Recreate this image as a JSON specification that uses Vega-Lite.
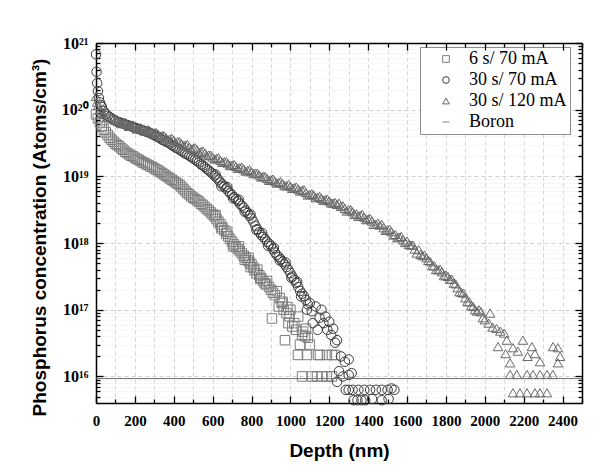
{
"$schema": "https://vega.github.io/schema/vega-lite/v6.json",
"width": 486, "height": 360,
"autosize": "none",
"padding": {"left": 96, "top": 43, "right": 24, "bottom": 72},
"background": "white",
"config": {"view": {"stroke": null}},
"datasets": {
"pts": [
{"s":"6 s/ 70 mA","d":0,"c":8.51e19},{"s":"6 s/ 70 mA","d":10,"c":7.41e19},{"s":"6 s/ 70 mA","d":20,"c":6.46e19},{"s":"6 s/ 70 mA","d":30,"c":5.62e19},{"s":"6 s/ 70 mA","d":40,"c":5.01e19},{"s":"6 s/ 70 mA","d":50,"c":4.57e19},{"s":"6 s/ 70 mA","d":60,"c":4.17e19},{"s":"6 s/ 70 mA","d":70,"c":3.80e19},{"s":"6 s/ 70 mA","d":80,"c":3.55e19},{"s":"6 s/ 70 mA","d":90,"c":3.31e19},{"s":"6 s/ 70 mA","d":100,"c":3.09e19},{"s":"6 s/ 70 mA","d":110,"c":2.95e19},{"s":"6 s/ 70 mA","d":120,"c":2.82e19},{"s":"6 s/ 70 mA","d":130,"c":2.63e19},{"s":"6 s/ 70 mA","d":140,"c":2.51e19},{"s":"6 s/ 70 mA","d":150,"c":2.34e19},{"s":"6 s/ 70 mA","d":160,"c":2.24e19},{"s":"6 s/ 70 mA","d":170,"c":2.14e19},{"s":"6 s/ 70 mA","d":180,"c":2.04e19},{"s":"6 s/ 70 mA","d":190,"c":2.00e19},{"s":"6 s/ 70 mA","d":200,"c":1.91e19},{"s":"6 s/ 70 mA","d":210,"c":1.82e19},{"s":"6 s/ 70 mA","d":220,"c":1.78e19},{"s":"6 s/ 70 mA","d":230,"c":1.70e19},{"s":"6 s/ 70 mA","d":240,"c":1.62e19},{"s":"6 s/ 70 mA","d":250,"c":1.58e19},{"s":"6 s/ 70 mA","d":260,"c":1.51e19},{"s":"6 s/ 70 mA","d":270,"c":1.48e19},{"s":"6 s/ 70 mA","d":280,"c":1.41e19},{"s":"6 s/ 70 mA","d":290,"c":1.38e19},{"s":"6 s/ 70 mA","d":300,"c":1.32e19},{"s":"6 s/ 70 mA","d":310,"c":1.26e19},{"s":"6 s/ 70 mA","d":320,"c":1.23e19},{"s":"6 s/ 70 mA","d":330,"c":1.17e19},{"s":"6 s/ 70 mA","d":340,"c":1.12e19},{"s":"6 s/ 70 mA","d":350,"c":1.07e19},{"s":"6 s/ 70 mA","d":360,"c":1.02e19},{"s":"6 s/ 70 mA","d":370,"c":9.77e18},{"s":"6 s/ 70 mA","d":380,"c":9.33e18},{"s":"6 s/ 70 mA","d":390,"c":8.91e18},{"s":"6 s/ 70 mA","d":400,"c":8.51e18},{"s":"6 s/ 70 mA","d":410,"c":8.13e18},{"s":"6 s/ 70 mA","d":420,"c":7.76e18},{"s":"6 s/ 70 mA","d":430,"c":7.41e18},{"s":"6 s/ 70 mA","d":440,"c":6.92e18},{"s":"6 s/ 70 mA","d":450,"c":6.46e18},{"s":"6 s/ 70 mA","d":460,"c":6.03e18},{"s":"6 s/ 70 mA","d":470,"c":5.62e18},{"s":"6 s/ 70 mA","d":480,"c":5.37e18},{"s":"6 s/ 70 mA","d":490,"c":5.01e18},{"s":"6 s/ 70 mA","d":500,"c":4.79e18},{"s":"6 s/ 70 mA","d":510,"c":4.57e18},{"s":"6 s/ 70 mA","d":520,"c":4.37e18},{"s":"6 s/ 70 mA","d":530,"c":4.17e18},{"s":"6 s/ 70 mA","d":540,"c":3.89e18},{"s":"6 s/ 70 mA","d":550,"c":3.72e18},{"s":"6 s/ 70 mA","d":560,"c":3.47e18},{"s":"6 s/ 70 mA","d":570,"c":3.24e18},{"s":"6 s/ 70 mA","d":580,"c":3.09e18},{"s":"6 s/ 70 mA","d":590,"c":2.88e18},{"s":"6 s/ 70 mA","d":600,"c":2.69e18},{"s":"6 s/ 70 mA","d":610,"c":2.51e18},{"s":"6 s/ 70 mA","d":620,"c":2.29e18},{"s":"6 s/ 70 mA","d":630,"c":2.09e18},{"s":"6 s/ 70 mA","d":640,"c":1.91e18},{"s":"6 s/ 70 mA","d":650,"c":1.74e18},{"s":"6 s/ 70 mA","d":660,"c":1.55e18},{"s":"6 s/ 70 mA","d":670,"c":1.38e18},{"s":"6 s/ 70 mA","d":680,"c":1.26e18},{"s":"6 s/ 70 mA","d":690,"c":1.15e18},{"s":"6 s/ 70 mA","d":700,"c":1.05e18},{"s":"6 s/ 70 mA","d":710,"c":9.55e17},{"s":"6 s/ 70 mA","d":720,"c":8.71e17},{"s":"6 s/ 70 mA","d":730,"c":8.13e17},{"s":"6 s/ 70 mA","d":740,"c":7.59e17},{"s":"6 s/ 70 mA","d":750,"c":7.08e17},{"s":"6 s/ 70 mA","d":760,"c":6.46e17},{"s":"6 s/ 70 mA","d":770,"c":6.03e17},{"s":"6 s/ 70 mA","d":780,"c":5.50e17},{"s":"6 s/ 70 mA","d":790,"c":5.13e17},{"s":"6 s/ 70 mA","d":800,"c":4.79e17},
{"s":"6 s/ 70 mA","d":615,"c":2.63e18},{"s":"6 s/ 70 mA","d":645,"c":1.66e18},{"s":"6 s/ 70 mA","d":675,"c":1.48e18},{"s":"6 s/ 70 mA","d":705,"c":8.91e17},{"s":"6 s/ 70 mA","d":735,"c":8.91e17},{"s":"6 s/ 70 mA","d":765,"c":5.62e17},{"s":"6 s/ 70 mA","d":785,"c":6.03e17},{"s":"6 s/ 70 mA","d":795,"c":4.37e17},
{"s":"6 s/ 70 mA","d":810,"c":4.3e17},{"s":"6 s/ 70 mA","d":815,"c":3.9e17},{"s":"6 s/ 70 mA","d":825,"c":3.5e17},{"s":"6 s/ 70 mA","d":830,"c":4.0e17},{"s":"6 s/ 70 mA","d":840,"c":3.3e17},{"s":"6 s/ 70 mA","d":845,"c":2.9e17},{"s":"6 s/ 70 mA","d":850,"c":3.0e17},{"s":"6 s/ 70 mA","d":860,"c":2.7e17},{"s":"6 s/ 70 mA","d":868,"c":2.5e17},{"s":"6 s/ 70 mA","d":875,"c":2.4e17},{"s":"6 s/ 70 mA","d":880,"c":2.7e17},{"s":"6 s/ 70 mA","d":890,"c":2.2e17},{"s":"6 s/ 70 mA","d":900,"c":2.0e17},{"s":"6 s/ 70 mA","d":905,"c":7.4e16},{"s":"6 s/ 70 mA","d":910,"c":1.8e17},{"s":"6 s/ 70 mA","d":920,"c":1.66e17},{"s":"6 s/ 70 mA","d":930,"c":1.9e17},{"s":"6 s/ 70 mA","d":940,"c":1.12e17},{"s":"6 s/ 70 mA","d":945,"c":1.5e17},{"s":"6 s/ 70 mA","d":955,"c":1.26e17},{"s":"6 s/ 70 mA","d":960,"c":1.32e17},{"s":"6 s/ 70 mA","d":965,"c":1.0e17},{"s":"6 s/ 70 mA","d":972,"c":3.5e16},{"s":"6 s/ 70 mA","d":980,"c":8.9e16},{"s":"6 s/ 70 mA","d":985,"c":1.1e17},{"s":"6 s/ 70 mA","d":990,"c":6.3e16},{"s":"6 s/ 70 mA","d":995,"c":8.0e16},{"s":"6 s/ 70 mA","d":1000,"c":1.0e17},{"s":"6 s/ 70 mA","d":1010,"c":5.6e16},{"s":"6 s/ 70 mA","d":1020,"c":6.3e16},{"s":"6 s/ 70 mA","d":1030,"c":5.0e16},{"s":"6 s/ 70 mA","d":1040,"c":7.9e16},{"s":"6 s/ 70 mA","d":1049,"c":3.0e16},{"s":"6 s/ 70 mA","d":1060,"c":4.2e16},{"s":"6 s/ 70 mA","d":1065,"c":4.7e16},{"s":"6 s/ 70 mA","d":1075,"c":4.0e16},{"s":"6 s/ 70 mA","d":1080,"c":5.2e16},{"s":"6 s/ 70 mA","d":1090,"c":3.8e16},{"s":"6 s/ 70 mA","d":1100,"c":3.0e16},
{"s":"6 s/ 70 mA","d":1039,"c":2.1e16},{"s":"6 s/ 70 mA","d":1085,"c":2.1e16},{"s":"6 s/ 70 mA","d":1142,"c":2.1e16},{"s":"6 s/ 70 mA","d":1152,"c":2.1e16},{"s":"6 s/ 70 mA","d":1188,"c":2.1e16},{"s":"6 s/ 70 mA","d":1214,"c":2.1e16},{"s":"6 s/ 70 mA","d":1229,"c":2.1e16},
{"s":"6 s/ 70 mA","d":1060,"c":1.0e16},{"s":"6 s/ 70 mA","d":1111,"c":1.0e16},{"s":"6 s/ 70 mA","d":1137,"c":1.0e16},{"s":"6 s/ 70 mA","d":1162,"c":1.0e16},{"s":"6 s/ 70 mA","d":1188,"c":1.0e16},{"s":"6 s/ 70 mA","d":1214,"c":1.0e16},

{"s":"30 s/ 70 mA","d":0,"c":6.76e20},{"s":"30 s/ 70 mA","d":3,"c":3.7e20},{"s":"30 s/ 70 mA","d":6,"c":2.5e20},{"s":"30 s/ 70 mA","d":10,"c":1.9e20},{"s":"30 s/ 70 mA","d":15,"c":1.5e20},{"s":"30 s/ 70 mA","d":20,"c":1.29e20},{"s":"30 s/ 70 mA","d":25,"c":1.17e20},{"s":"30 s/ 70 mA","d":30,"c":1.10e20},{"s":"30 s/ 70 mA","d":40,"c":9.55e19},{"s":"30 s/ 70 mA","d":50,"c":8.71e19},{"s":"30 s/ 70 mA","d":60,"c":8.13e19},{"s":"30 s/ 70 mA","d":70,"c":7.76e19},{"s":"30 s/ 70 mA","d":80,"c":7.41e19},{"s":"30 s/ 70 mA","d":90,"c":7.08e19},{"s":"30 s/ 70 mA","d":100,"c":6.76e19},{"s":"30 s/ 70 mA","d":110,"c":6.61e19},{"s":"30 s/ 70 mA","d":120,"c":6.46e19},{"s":"30 s/ 70 mA","d":130,"c":6.31e19},{"s":"30 s/ 70 mA","d":140,"c":6.17e19},{"s":"30 s/ 70 mA","d":150,"c":6.03e19},{"s":"30 s/ 70 mA","d":160,"c":5.89e19},{"s":"30 s/ 70 mA","d":170,"c":5.75e19},{"s":"30 s/ 70 mA","d":180,"c":5.62e19},{"s":"30 s/ 70 mA","d":190,"c":5.50e19},{"s":"30 s/ 70 mA","d":200,"c":5.37e19},{"s":"30 s/ 70 mA","d":210,"c":5.25e19},{"s":"30 s/ 70 mA","d":220,"c":5.13e19},{"s":"30 s/ 70 mA","d":230,"c":5.01e19},{"s":"30 s/ 70 mA","d":240,"c":4.90e19},{"s":"30 s/ 70 mA","d":250,"c":4.79e19},{"s":"30 s/ 70 mA","d":260,"c":4.68e19},{"s":"30 s/ 70 mA","d":270,"c":4.57e19},{"s":"30 s/ 70 mA","d":280,"c":4.47e19},{"s":"30 s/ 70 mA","d":290,"c":4.27e19},{"s":"30 s/ 70 mA","d":300,"c":4.17e19},{"s":"30 s/ 70 mA","d":310,"c":3.98e19},{"s":"30 s/ 70 mA","d":320,"c":3.89e19},{"s":"30 s/ 70 mA","d":330,"c":3.72e19},{"s":"30 s/ 70 mA","d":340,"c":3.55e19},{"s":"30 s/ 70 mA","d":350,"c":3.47e19},{"s":"30 s/ 70 mA","d":360,"c":3.31e19},{"s":"30 s/ 70 mA","d":370,"c":3.24e19},{"s":"30 s/ 70 mA","d":380,"c":3.09e19},{"s":"30 s/ 70 mA","d":390,"c":2.95e19},{"s":"30 s/ 70 mA","d":400,"c":2.82e19},{"s":"30 s/ 70 mA","d":410,"c":2.69e19},{"s":"30 s/ 70 mA","d":420,"c":2.63e19},{"s":"30 s/ 70 mA","d":430,"c":2.51e19},{"s":"30 s/ 70 mA","d":440,"c":2.40e19},{"s":"30 s/ 70 mA","d":450,"c":2.29e19},{"s":"30 s/ 70 mA","d":460,"c":2.19e19},{"s":"30 s/ 70 mA","d":470,"c":2.14e19},{"s":"30 s/ 70 mA","d":480,"c":2.04e19},{"s":"30 s/ 70 mA","d":490,"c":1.95e19},{"s":"30 s/ 70 mA","d":500,"c":1.86e19},{"s":"30 s/ 70 mA","d":510,"c":1.78e19},{"s":"30 s/ 70 mA","d":520,"c":1.70e19},{"s":"30 s/ 70 mA","d":530,"c":1.62e19},{"s":"30 s/ 70 mA","d":540,"c":1.51e19},{"s":"30 s/ 70 mA","d":550,"c":1.45e19},{"s":"30 s/ 70 mA","d":560,"c":1.38e19},{"s":"30 s/ 70 mA","d":570,"c":1.29e19},{"s":"30 s/ 70 mA","d":580,"c":1.23e19},{"s":"30 s/ 70 mA","d":590,"c":1.15e19},{"s":"30 s/ 70 mA","d":600,"c":1.10e19},{"s":"30 s/ 70 mA","d":610,"c":1.02e19},{"s":"30 s/ 70 mA","d":620,"c":9.55e18},{"s":"30 s/ 70 mA","d":630,"c":8.91e18},{"s":"30 s/ 70 mA","d":640,"c":8.13e18},{"s":"30 s/ 70 mA","d":650,"c":7.59e18},{"s":"30 s/ 70 mA","d":660,"c":7.08e18},{"s":"30 s/ 70 mA","d":670,"c":6.61e18},{"s":"30 s/ 70 mA","d":680,"c":6.03e18},{"s":"30 s/ 70 mA","d":690,"c":5.62e18},{"s":"30 s/ 70 mA","d":700,"c":5.25e18},{"s":"30 s/ 70 mA","d":710,"c":4.90e18},{"s":"30 s/ 70 mA","d":720,"c":4.57e18},{"s":"30 s/ 70 mA","d":730,"c":4.27e18},{"s":"30 s/ 70 mA","d":740,"c":3.89e18},{"s":"30 s/ 70 mA","d":750,"c":3.63e18},{"s":"30 s/ 70 mA","d":760,"c":3.39e18},{"s":"30 s/ 70 mA","d":770,"c":3.09e18},{"s":"30 s/ 70 mA","d":780,"c":2.82e18},{"s":"30 s/ 70 mA","d":790,"c":2.57e18},{"s":"30 s/ 70 mA","d":800,"c":2.34e18},{"s":"30 s/ 70 mA","d":810,"c":2.09e18},{"s":"30 s/ 70 mA","d":820,"c":1.82e18},{"s":"30 s/ 70 mA","d":830,"c":1.62e18},{"s":"30 s/ 70 mA","d":840,"c":1.45e18},{"s":"30 s/ 70 mA","d":850,"c":1.32e18},{"s":"30 s/ 70 mA","d":860,"c":1.23e18},{"s":"30 s/ 70 mA","d":870,"c":1.15e18},{"s":"30 s/ 70 mA","d":880,"c":1.05e18},{"s":"30 s/ 70 mA","d":890,"c":9.77e17},{"s":"30 s/ 70 mA","d":900,"c":9.12e17},{"s":"30 s/ 70 mA","d":910,"c":8.13e17},{"s":"30 s/ 70 mA","d":920,"c":7.24e17},{"s":"30 s/ 70 mA","d":930,"c":6.61e17},{"s":"30 s/ 70 mA","d":940,"c":6.17e17},{"s":"30 s/ 70 mA","d":950,"c":5.75e17},{"s":"30 s/ 70 mA","d":960,"c":5.25e17},{"s":"30 s/ 70 mA","d":970,"c":4.79e17},{"s":"30 s/ 70 mA","d":980,"c":4.37e17},{"s":"30 s/ 70 mA","d":990,"c":3.98e17},{"s":"30 s/ 70 mA","d":1000,"c":3.55e17},{"s":"30 s/ 70 mA","d":1010,"c":3.16e17},{"s":"30 s/ 70 mA","d":1020,"c":2.82e17},{"s":"30 s/ 70 mA","d":1030,"c":2.51e17},{"s":"30 s/ 70 mA","d":1040,"c":2.19e17},{"s":"30 s/ 70 mA","d":1050,"c":1.91e17},{"s":"30 s/ 70 mA","d":1060,"c":1.74e17},
{"s":"30 s/ 70 mA","d":615,"c":1.07e19},{"s":"30 s/ 70 mA","d":645,"c":7.08e18},{"s":"30 s/ 70 mA","d":675,"c":6.92e18},{"s":"30 s/ 70 mA","d":705,"c":4.68e18},{"s":"30 s/ 70 mA","d":735,"c":4.47e18},{"s":"30 s/ 70 mA","d":765,"c":2.95e18},{"s":"30 s/ 70 mA","d":795,"c":2.69e18},{"s":"30 s/ 70 mA","d":825,"c":1.58e18},{"s":"30 s/ 70 mA","d":855,"c":1.41e18},{"s":"30 s/ 70 mA","d":885,"c":9.12e17},{"s":"30 s/ 70 mA","d":915,"c":8.51e17},{"s":"30 s/ 70 mA","d":945,"c":5.50e17},{"s":"30 s/ 70 mA","d":975,"c":5.13e17},{"s":"30 s/ 70 mA","d":1005,"c":3.02e17},{"s":"30 s/ 70 mA","d":1035,"c":2.63e17},{"s":"30 s/ 70 mA","d":1055,"c":1.58e17},{"s":"30 s/ 70 mA","d":1080,"c":1.41e17},{"s":"30 s/ 70 mA","d":1085,"c":1.0e17},
{"s":"30 s/ 70 mA","d":1070,"c":1.6e17},{"s":"30 s/ 70 mA","d":1090,"c":1.2e17},{"s":"30 s/ 70 mA","d":1100,"c":1.26e17},{"s":"30 s/ 70 mA","d":1110,"c":9.5e16},{"s":"30 s/ 70 mA","d":1115,"c":6.3e16},{"s":"30 s/ 70 mA","d":1130,"c":1.12e17},{"s":"30 s/ 70 mA","d":1140,"c":5.0e16},{"s":"30 s/ 70 mA","d":1150,"c":7.6e16},{"s":"30 s/ 70 mA","d":1160,"c":1.0e17},{"s":"30 s/ 70 mA","d":1170,"c":6.3e16},{"s":"30 s/ 70 mA","d":1180,"c":7.9e16},{"s":"30 s/ 70 mA","d":1190,"c":5.0e16},{"s":"30 s/ 70 mA","d":1200,"c":6.6e16},{"s":"30 s/ 70 mA","d":1210,"c":4.2e16},{"s":"30 s/ 70 mA","d":1220,"c":5.2e16},{"s":"30 s/ 70 mA","d":1230,"c":3.2e16},{"s":"30 s/ 70 mA","d":1240,"c":3.5e16},{"s":"30 s/ 70 mA","d":1260,"c":2.0e16},{"s":"30 s/ 70 mA","d":1280,"c":1.66e16},{"s":"30 s/ 70 mA","d":1300,"c":1.8e16},{"s":"30 s/ 70 mA","d":1250,"c":1.2e16},{"s":"30 s/ 70 mA","d":1270,"c":1.0e16},{"s":"30 s/ 70 mA","d":1300,"c":1.05e16},{"s":"30 s/ 70 mA","d":1315,"c":1.12e16},{"s":"30 s/ 70 mA","d":1240,"c":8.3e15},
{"s":"30 s/ 70 mA","d":1285,"c":6.3e15},{"s":"30 s/ 70 mA","d":1300,"c":6.3e15},{"s":"30 s/ 70 mA","d":1320,"c":6.3e15},{"s":"30 s/ 70 mA","d":1350,"c":6.3e15},{"s":"30 s/ 70 mA","d":1380,"c":6.3e15},{"s":"30 s/ 70 mA","d":1410,"c":6.3e15},{"s":"30 s/ 70 mA","d":1440,"c":6.3e15},{"s":"30 s/ 70 mA","d":1470,"c":6.3e15},{"s":"30 s/ 70 mA","d":1500,"c":6.3e15},{"s":"30 s/ 70 mA","d":1520,"c":6.6e15},{"s":"30 s/ 70 mA","d":1535,"c":6.3e15},
{"s":"30 s/ 70 mA","d":1325,"c":4.4e15},{"s":"30 s/ 70 mA","d":1345,"c":4.4e15},{"s":"30 s/ 70 mA","d":1365,"c":4.4e15},{"s":"30 s/ 70 mA","d":1385,"c":4.4e15},{"s":"30 s/ 70 mA","d":1420,"c":4.6e15},{"s":"30 s/ 70 mA","d":1470,"c":4.4e15},{"s":"30 s/ 70 mA","d":1505,"c":4.6e15},

{"s":"30 s/ 120 mA","d":0,"c":1.58e20},{"s":"30 s/ 120 mA","d":5,"c":1.3e20},{"s":"30 s/ 120 mA","d":10,"c":1.15e20},{"s":"30 s/ 120 mA","d":20,"c":9.77e19},{"s":"30 s/ 120 mA","d":30,"c":9.1e19},{"s":"30 s/ 120 mA","d":40,"c":8.51e19},{"s":"30 s/ 120 mA","d":60,"c":7.76e19},{"s":"30 s/ 120 mA","d":80,"c":7.24e19},{"s":"30 s/ 120 mA","d":100,"c":6.92e19},{"s":"30 s/ 120 mA","d":120,"c":6.61e19},{"s":"30 s/ 120 mA","d":140,"c":6.31e19},{"s":"30 s/ 120 mA","d":160,"c":6.03e19},{"s":"30 s/ 120 mA","d":180,"c":5.75e19},{"s":"30 s/ 120 mA","d":200,"c":5.50e19},{"s":"30 s/ 120 mA","d":220,"c":5.25e19},{"s":"30 s/ 120 mA","d":240,"c":5.13e19},{"s":"30 s/ 120 mA","d":260,"c":4.90e19},{"s":"30 s/ 120 mA","d":280,"c":4.68e19},{"s":"30 s/ 120 mA","d":300,"c":4.47e19},{"s":"30 s/ 120 mA","d":320,"c":4.27e19},{"s":"30 s/ 120 mA","d":340,"c":4.07e19},{"s":"30 s/ 120 mA","d":360,"c":3.80e19},{"s":"30 s/ 120 mA","d":380,"c":3.63e19},{"s":"30 s/ 120 mA","d":400,"c":3.47e19},{"s":"30 s/ 120 mA","d":420,"c":3.31e19},{"s":"30 s/ 120 mA","d":440,"c":3.09e19},{"s":"30 s/ 120 mA","d":460,"c":2.95e19},{"s":"30 s/ 120 mA","d":480,"c":2.75e19},{"s":"30 s/ 120 mA","d":500,"c":2.63e19},{"s":"30 s/ 120 mA","d":520,"c":2.51e19},{"s":"30 s/ 120 mA","d":540,"c":2.34e19},{"s":"30 s/ 120 mA","d":560,"c":2.24e19},{"s":"30 s/ 120 mA","d":580,"c":2.09e19},{"s":"30 s/ 120 mA","d":600,"c":1.95e19},{"s":"30 s/ 120 mA","d":620,"c":1.86e19},{"s":"30 s/ 120 mA","d":640,"c":1.74e19},{"s":"30 s/ 120 mA","d":660,"c":1.66e19},{"s":"30 s/ 120 mA","d":680,"c":1.55e19},{"s":"30 s/ 120 mA","d":700,"c":1.48e19},{"s":"30 s/ 120 mA","d":720,"c":1.41e19},{"s":"30 s/ 120 mA","d":740,"c":1.35e19},{"s":"30 s/ 120 mA","d":760,"c":1.29e19},{"s":"30 s/ 120 mA","d":780,"c":1.23e19},{"s":"30 s/ 120 mA","d":800,"c":1.17e19},{"s":"30 s/ 120 mA","d":820,"c":1.12e19},{"s":"30 s/ 120 mA","d":840,"c":1.05e19},{"s":"30 s/ 120 mA","d":860,"c":1.00e19},{"s":"30 s/ 120 mA","d":880,"c":9.33e18},{"s":"30 s/ 120 mA","d":900,"c":8.91e18},{"s":"30 s/ 120 mA","d":920,"c":8.51e18},{"s":"30 s/ 120 mA","d":940,"c":8.13e18},{"s":"30 s/ 120 mA","d":960,"c":7.76e18},{"s":"30 s/ 120 mA","d":980,"c":7.24e18},{"s":"30 s/ 120 mA","d":1000,"c":7.08e18},{"s":"30 s/ 120 mA","d":1020,"c":6.76e18},{"s":"30 s/ 120 mA","d":1040,"c":6.46e18},{"s":"30 s/ 120 mA","d":1060,"c":6.17e18},{"s":"30 s/ 120 mA","d":1080,"c":5.75e18},{"s":"30 s/ 120 mA","d":1100,"c":5.37e18},{"s":"30 s/ 120 mA","d":1120,"c":5.25e18},{"s":"30 s/ 120 mA","d":1140,"c":4.90e18},{"s":"30 s/ 120 mA","d":1160,"c":4.68e18},{"s":"30 s/ 120 mA","d":1180,"c":4.47e18},{"s":"30 s/ 120 mA","d":1200,"c":4.27e18},{"s":"30 s/ 120 mA","d":1220,"c":3.98e18},{"s":"30 s/ 120 mA","d":1240,"c":3.80e18},{"s":"30 s/ 120 mA","d":1250,"c":3.98e18},{"s":"30 s/ 120 mA","d":1260,"c":3.55e18},{"s":"30 s/ 120 mA","d":1280,"c":3.31e18},{"s":"30 s/ 120 mA","d":1300,"c":3.16e18},{"s":"30 s/ 120 mA","d":1320,"c":2.95e18},{"s":"30 s/ 120 mA","d":1340,"c":2.75e18},{"s":"30 s/ 120 mA","d":1350,"c":2.51e18},{"s":"30 s/ 120 mA","d":1360,"c":2.63e18},{"s":"30 s/ 120 mA","d":1380,"c":2.45e18},{"s":"30 s/ 120 mA","d":1400,"c":2.29e18},{"s":"30 s/ 120 mA","d":1420,"c":2.14e18},{"s":"30 s/ 120 mA","d":1440,"c":1.91e18},{"s":"30 s/ 120 mA","d":1450,"c":2.0e18},{"s":"30 s/ 120 mA","d":1460,"c":1.86e18},{"s":"30 s/ 120 mA","d":1480,"c":1.70e18},{"s":"30 s/ 120 mA","d":1500,"c":1.58e18},{"s":"30 s/ 120 mA","d":1520,"c":1.48e18},{"s":"30 s/ 120 mA","d":1540,"c":1.35e18},{"s":"30 s/ 120 mA","d":1550,"c":1.2e18},{"s":"30 s/ 120 mA","d":1560,"c":1.23e18},{"s":"30 s/ 120 mA","d":1580,"c":1.12e18},{"s":"30 s/ 120 mA","d":1600,"c":1.07e18},{"s":"30 s/ 120 mA","d":1610,"c":9.5e17},{"s":"30 s/ 120 mA","d":1620,"c":9.33e17},{"s":"30 s/ 120 mA","d":1640,"c":8.13e17},{"s":"30 s/ 120 mA","d":1650,"c":7.1e17},{"s":"30 s/ 120 mA","d":1660,"c":7.94e17},{"s":"30 s/ 120 mA","d":1680,"c":6.46e17},{"s":"30 s/ 120 mA","d":1700,"c":6.03e17},{"s":"30 s/ 120 mA","d":1710,"c":5.5e17},{"s":"30 s/ 120 mA","d":1720,"c":5.25e17},{"s":"30 s/ 120 mA","d":1740,"c":4.57e17},{"s":"30 s/ 120 mA","d":1750,"c":4.0e17},{"s":"30 s/ 120 mA","d":1760,"c":3.98e17},{"s":"30 s/ 120 mA","d":1780,"c":3.72e17},{"s":"30 s/ 120 mA","d":1800,"c":3.31e17},{"s":"30 s/ 120 mA","d":1810,"c":3.16e17},{"s":"30 s/ 120 mA","d":1820,"c":2.88e17},{"s":"30 s/ 120 mA","d":1840,"c":2.51e17},{"s":"30 s/ 120 mA","d":1850,"c":2.45e17},{"s":"30 s/ 120 mA","d":1860,"c":2.14e17},{"s":"30 s/ 120 mA","d":1880,"c":1.82e17},{"s":"30 s/ 120 mA","d":1900,"c":1.51e17},{"s":"30 s/ 120 mA","d":1910,"c":1.32e17},{"s":"30 s/ 120 mA","d":1920,"c":1.32e17},{"s":"30 s/ 120 mA","d":1940,"c":1.12e17},{"s":"30 s/ 120 mA","d":1950,"c":1.0e17},{"s":"30 s/ 120 mA","d":1960,"c":9.55e16},{"s":"30 s/ 120 mA","d":1980,"c":9.33e16},{"s":"30 s/ 120 mA","d":2000,"c":7.08e16},{"s":"30 s/ 120 mA","d":2020,"c":6.31e16},{"s":"30 s/ 120 mA","d":2027,"c":8.9e16},{"s":"30 s/ 120 mA","d":2040,"c":5.50e16},{"s":"30 s/ 120 mA","d":2060,"c":5.25e16},{"s":"30 s/ 120 mA","d":2080,"c":4.79e16},{"s":"30 s/ 120 mA","d":2100,"c":4.47e16},
{"s":"30 s/ 120 mA","d":110,"c":7.08e19},{"s":"30 s/ 120 mA","d":130,"c":6.17e19},{"s":"30 s/ 120 mA","d":150,"c":6.46e19},{"s":"30 s/ 120 mA","d":170,"c":5.62e19},{"s":"30 s/ 120 mA","d":190,"c":5.89e19},{"s":"30 s/ 120 mA","d":210,"c":5.13e19},{"s":"30 s/ 120 mA","d":230,"c":5.37e19},{"s":"30 s/ 120 mA","d":250,"c":4.79e19},{"s":"30 s/ 120 mA","d":270,"c":5.01e19},{"s":"30 s/ 120 mA","d":290,"c":4.37e19},{"s":"30 s/ 120 mA","d":310,"c":4.57e19},{"s":"30 s/ 120 mA","d":330,"c":3.98e19},{"s":"30 s/ 120 mA","d":350,"c":4.07e19},{"s":"30 s/ 120 mA","d":370,"c":3.55e19},{"s":"30 s/ 120 mA","d":390,"c":3.72e19},{"s":"30 s/ 120 mA","d":410,"c":3.24e19},{"s":"30 s/ 120 mA","d":430,"c":3.31e19},{"s":"30 s/ 120 mA","d":450,"c":2.88e19},{"s":"30 s/ 120 mA","d":470,"c":3.02e19},{"s":"30 s/ 120 mA","d":490,"c":2.57e19},{"s":"30 s/ 120 mA","d":510,"c":2.69e19},{"s":"30 s/ 120 mA","d":530,"c":2.29e19},{"s":"30 s/ 120 mA","d":550,"c":2.40e19},{"s":"30 s/ 120 mA","d":570,"c":2.04e19},{"s":"30 s/ 120 mA","d":590,"c":2.09e19},{"s":"30 s/ 120 mA","d":610,"c":1.82e19},{"s":"30 s/ 120 mA","d":630,"c":1.91e19},{"s":"30 s/ 120 mA","d":650,"c":1.62e19},{"s":"30 s/ 120 mA","d":670,"c":1.66e19},{"s":"30 s/ 120 mA","d":690,"c":1.45e19},{"s":"30 s/ 120 mA","d":710,"c":1.51e19},{"s":"30 s/ 120 mA","d":730,"c":1.32e19},{"s":"30 s/ 120 mA","d":750,"c":1.38e19},{"s":"30 s/ 120 mA","d":770,"c":1.20e19},{"s":"30 s/ 120 mA","d":790,"c":1.26e19},{"s":"30 s/ 120 mA","d":810,"c":1.10e19},{"s":"30 s/ 120 mA","d":830,"c":1.12e19},{"s":"30 s/ 120 mA","d":850,"c":9.77e18},{"s":"30 s/ 120 mA","d":870,"c":1.0e19},{"s":"30 s/ 120 mA","d":890,"c":8.71e18},{"s":"30 s/ 120 mA","d":910,"c":9.12e18},{"s":"30 s/ 120 mA","d":930,"c":7.94e18},{"s":"30 s/ 120 mA","d":950,"c":8.32e18},{"s":"30 s/ 120 mA","d":970,"c":7.24e18},{"s":"30 s/ 120 mA","d":990,"c":7.59e18},{"s":"30 s/ 120 mA","d":1010,"c":6.61e18},{"s":"30 s/ 120 mA","d":1030,"c":6.92e18},{"s":"30 s/ 120 mA","d":1050,"c":6.03e18},{"s":"30 s/ 120 mA","d":1070,"c":6.31e18},{"s":"30 s/ 120 mA","d":1090,"c":5.25e18},{"s":"30 s/ 120 mA","d":1110,"c":5.50e18},{"s":"30 s/ 120 mA","d":1130,"c":4.79e18},{"s":"30 s/ 120 mA","d":1150,"c":5.01e18},{"s":"30 s/ 120 mA","d":1170,"c":4.37e18},{"s":"30 s/ 120 mA","d":1190,"c":4.57e18},{"s":"30 s/ 120 mA","d":1210,"c":3.98e18},{"s":"30 s/ 120 mA","d":1230,"c":4.07e18},{"s":"30 s/ 120 mA","d":1270,"c":3.63e18},{"s":"30 s/ 120 mA","d":1290,"c":3.02e18},{"s":"30 s/ 120 mA","d":1310,"c":3.16e18},{"s":"30 s/ 120 mA","d":1330,"c":2.69e18},{"s":"30 s/ 120 mA","d":1370,"c":2.69e18},{"s":"30 s/ 120 mA","d":1390,"c":2.24e18},{"s":"30 s/ 120 mA","d":1410,"c":2.34e18},{"s":"30 s/ 120 mA","d":1430,"c":1.91e18},{"s":"30 s/ 120 mA","d":1470,"c":1.91e18},{"s":"30 s/ 120 mA","d":1490,"c":1.55e18},{"s":"30 s/ 120 mA","d":1510,"c":1.62e18},{"s":"30 s/ 120 mA","d":1530,"c":1.32e18},{"s":"30 s/ 120 mA","d":1570,"c":1.26e18},{"s":"30 s/ 120 mA","d":1590,"c":1.02e18},{"s":"30 s/ 120 mA","d":1630,"c":9.33e17},{"s":"30 s/ 120 mA","d":1670,"c":6.76e17},{"s":"30 s/ 120 mA","d":1690,"c":6.61e17},{"s":"30 s/ 120 mA","d":1730,"c":4.57e17},{"s":"30 s/ 120 mA","d":1770,"c":4.07e17},{"s":"30 s/ 120 mA","d":1790,"c":3.24e17},{"s":"30 s/ 120 mA","d":1830,"c":2.88e17},{"s":"30 s/ 120 mA","d":1870,"c":1.86e17},{"s":"30 s/ 120 mA","d":1890,"c":1.78e17},{"s":"30 s/ 120 mA","d":1930,"c":1.15e17},{"s":"30 s/ 120 mA","d":1970,"c":1.0e17},{"s":"30 s/ 120 mA","d":1990,"c":7.59e16},
{"s":"30 s/ 120 mA","d":2068,"c":2.8e16},{"s":"30 s/ 120 mA","d":2113,"c":3.5e16},{"s":"30 s/ 120 mA","d":2145,"c":2.7e16},{"s":"30 s/ 120 mA","d":2196,"c":3.5e16},{"s":"30 s/ 120 mA","d":2242,"c":2.8e16},{"s":"30 s/ 120 mA","d":2107,"c":2.2e16},{"s":"30 s/ 120 mA","d":2130,"c":1.6e16},{"s":"30 s/ 120 mA","d":2258,"c":2.2e16},{"s":"30 s/ 120 mA","d":2284,"c":1.66e16},{"s":"30 s/ 120 mA","d":2351,"c":2.8e16},{"s":"30 s/ 120 mA","d":2376,"c":2.7e16},{"s":"30 s/ 120 mA","d":2387,"c":2.0e16},{"s":"30 s/ 120 mA","d":2376,"c":1.6e16},{"s":"30 s/ 120 mA","d":2220,"c":2.0e16},{"s":"30 s/ 120 mA","d":2170,"c":2.4e16},
{"s":"30 s/ 120 mA","d":2130,"c":1.07e16},{"s":"30 s/ 120 mA","d":2165,"c":1.07e16},{"s":"30 s/ 120 mA","d":2217,"c":1.07e16},{"s":"30 s/ 120 mA","d":2248,"c":1.07e16},{"s":"30 s/ 120 mA","d":2284,"c":1.07e16},{"s":"30 s/ 120 mA","d":2320,"c":1.07e16},{"s":"30 s/ 120 mA","d":2350,"c":1.07e16},
{"s":"30 s/ 120 mA","d":2145,"c":5.7e15},{"s":"30 s/ 120 mA","d":2181,"c":5.7e15},{"s":"30 s/ 120 mA","d":2217,"c":5.7e15},{"s":"30 s/ 120 mA","d":2258,"c":5.7e15},{"s":"30 s/ 120 mA","d":2284,"c":5.7e15},{"s":"30 s/ 120 mA","d":2320,"c":5.7e15}
],
"boron": [
{"s":"Boron","d":0,"c":9.3e15},{"s":"Boron","d":500,"c":9.3e15},{"s":"Boron","d":1000,"c":9.3e15},{"s":"Boron","d":1500,"c":9.3e15},{"s":"Boron","d":2000,"c":9.3e15},{"s":"Boron","d":2500,"c":9.3e15}
]
},
"layer": [
{
"data": {"name": "pts"},
"mark": {"type": "point", "filled": false, "size": 90, "strokeWidth": 1, "opacity": 1},
"encoding": {
"x": {"field": "d", "type": "quantitative",
 "scale": {"domain": [0, 2500], "nice": false, "zero": false},
 "axis": {"orient": "bottom", "zindex": 0,
  "values": [0,100,200,300,400,500,600,700,800,900,1000,1100,1200,1300,1400,1500,1600,1700,1800,1900,2000,2100,2200,2300,2400,2500],
  "format": "d",
  "labelExpr": "datum.value % 200 == 0 && datum.value < 2500 ? datum.label : ''",
  "tickSize": {"condition": {"test": "datum.value % 200 == 0", "value": -7}, "value": -4},
  "tickColor": "black", "tickWidth": 1.3,
  "domainColor": "black", "domainWidth": 1.5,
  "grid": true, "gridColor": "#cccccc", "gridDash": [4, 3], "gridWidth": 0.8,
  "labelFont": "Liberation Serif", "labelFontWeight": "bold", "labelFontSize": 15, "labelColor": "black",
  "labelPadding": 17, "labelFlush": false, "labelOverlap": false,
  "title": "Depth (nm)", "titleFont": "Liberation Sans", "titleFontSize": 19, "titleFontWeight": "bold", "titleColor": "black", "titlePadding": 10}},
"y": {"field": "c", "type": "quantitative",
 "scale": {"type": "log", "domain": [4e15, 1e21], "nice": false},
 "axis": {"orient": "left", "zindex": 0,
  "values": [5e15,6e15,7e15,8e15,9e15,1e16,2e16,3e16,4e16,5e16,6e16,7e16,8e16,9e16,1e17,2e17,3e17,4e17,5e17,6e17,7e17,8e17,9e17,1e18,2e18,3e18,4e18,5e18,6e18,7e18,8e18,9e18,1e19,2e19,3e19,4e19,5e19,6e19,7e19,8e19,9e19,1e20,2e20,3e20,4e20,5e20,6e20,7e20,8e20,9e20,1e21],
  "labelExpr": "abs(log(datum.value)/LN10 - round(log(datum.value)/LN10)) < 0.001 ? '10' + ['¹⁶','¹⁷','¹⁸','¹⁹','²⁰','²¹'][round(log(datum.value)/LN10) - 16] : ''",
  "tickSize": {"condition": {"test": "abs(log(datum.value)/LN10 - round(log(datum.value)/LN10)) < 0.001", "value": -7}, "value": -4},
  "tickColor": "black", "tickWidth": 1.3,
  "domainColor": "black", "domainWidth": 1.5,
  "grid": true,
  "gridColor": {"condition": {"test": "abs(log(datum.value)/LN10 - round(log(datum.value)/LN10)) < 0.001", "value": "#c4c4c4"}, "value": "#dedede"},
  "gridDash": {"condition": {"test": "abs(log(datum.value)/LN10 - round(log(datum.value)/LN10)) < 0.001", "value": [4, 3]}, "value": [1, 2]},
  "gridWidth": 0.8,
  "labelFont": "Liberation Serif", "labelFontWeight": "bold", "labelFontSize": 16, "labelColor": "black",
  "labelPadding": 15, "labelOverlap": false, "labelFlush": false,
  "title": "Phosphorus concentration (Atoms/cm³)", "titleFont": "Liberation Sans", "titleFontSize": 19, "titleFontWeight": "bold", "titleColor": "black", "titlePadding": 12, "titleY": 194}},
"stroke": {"field": "s", "type": "nominal",
 "scale": {"domain": ["6 s/ 70 mA", "30 s/ 70 mA", "30 s/ 120 mA", "Boron"], "range": ["#7c7c7c", "#3c3c3c", "#6a6a6a", "#7c7c7c"]},
 "legend": {"title": null, "orient": "none", "legendX": 324, "legendY": 4, "strokeColor": "#8c8c8c", "fillColor": "white", "padding": 3, "symbolOffset": 14, "labelFont": "Liberation Serif", "labelFontSize": 18, "labelColor": "black", "labelOffset": 14, "rowPadding": 3, "symbolSize": 45, "symbolStrokeWidth": 1,
  "encode": {"labels": {"update": {"font": {"signal": "datum.label === 'Boron' ? 'Liberation Sans' : 'Liberation Serif'"}}}}}},
"shape": {"field": "s", "type": "nominal",
 "scale": {"domain": ["6 s/ 70 mA", "30 s/ 70 mA", "30 s/ 120 mA", "Boron"], "range": ["square", "circle", "triangle-up", "stroke"]},
 "legend": {"title": null, "orient": "none", "legendX": 324, "legendY": 4, "strokeColor": "#8c8c8c", "fillColor": "white", "padding": 3, "symbolOffset": 14, "labelFont": "Liberation Serif", "labelFontSize": 18, "labelColor": "black", "labelOffset": 14, "rowPadding": 3, "symbolSize": 45, "symbolStrokeWidth": 1,
  "encode": {"labels": {"update": {"font": {"signal": "datum.label === 'Boron' ? 'Liberation Sans' : 'Liberation Serif'"}}}}}}
}
},
{
"data": {"name": "boron"},
"mark": {"type": "line", "color": "#707070", "strokeWidth": 1},
"encoding": {
"x": {"field": "d", "type": "quantitative",
 "scale": {"domain": [0, 2500], "nice": false, "zero": false},
 "axis": {"orient": "top", "zindex": 1, "labels": false, "grid": false, "title": null,
  "values": [0,100,200,300,400,500,600,700,800,900,1000,1100,1200,1300,1400,1500,1600,1700,1800,1900,2000,2100,2200,2300,2400,2500],
  "tickSize": {"condition": {"test": "datum.value % 200 == 0", "value": -7}, "value": -4},
  "tickColor": "black", "tickWidth": 1.3, "domainColor": "black", "domainWidth": 1.5}},
"y": {"field": "c", "type": "quantitative",
 "scale": {"type": "log", "domain": [4e15, 1e21], "nice": false},
 "axis": {"orient": "right", "zindex": 1, "labels": false, "grid": false, "title": null,
  "values": [5e15,6e15,7e15,8e15,9e15,1e16,2e16,3e16,4e16,5e16,6e16,7e16,8e16,9e16,1e17,2e17,3e17,4e17,5e17,6e17,7e17,8e17,9e17,1e18,2e18,3e18,4e18,5e18,6e18,7e18,8e18,9e18,1e19,2e19,3e19,4e19,5e19,6e19,7e19,8e19,9e19,1e20,2e20,3e20,4e20,5e20,6e20,7e20,8e20,9e20,1e21],
  "tickSize": {"condition": {"test": "abs(log(datum.value)/LN10 - round(log(datum.value)/LN10)) < 0.001", "value": -7}, "value": -4},
  "tickColor": "black", "tickWidth": 1.3, "domainColor": "black", "domainWidth": 1.5}}
}
}
],
"resolve": {"axis": {"x": "independent", "y": "independent"}}
}
